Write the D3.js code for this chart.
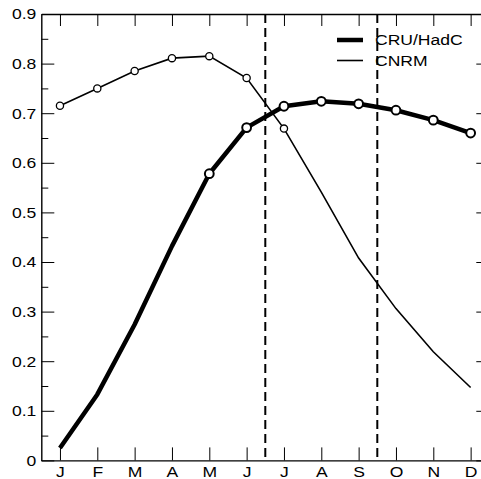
<!DOCTYPE html>
<html><head><meta charset="utf-8">
<script src="https://cdn.jsdelivr.net/npm/d3@7"></script>
<style>body{margin:0;background:#fff}svg{display:block}text{font-family:"Liberation Sans",Arial,sans-serif;font-size:15px;fill:#000}</style>
</head><body>
<svg id="c" width="481" height="479"></svg>
<script>
const months = ["J","F","M","A","M","J","J","A","S","O","N","D"];
const cruHadC = [0.025, 0.133, 0.274, 0.432, 0.578, 0.671, 0.714, 0.724, 0.719, 0.706, 0.686, 0.660];
const cnrm = [0.715, 0.750, 0.785, 0.811, 0.815, 0.771, 0.669, 0.541, 0.408, 0.306, 0.219, 0.147];
const cruMarkerIdx = [4,5,6,7,8,9,10,11];
const cnrmMarkerIdx = [0,1,2,3,4,5,6];
const dashedX = [5.5, 8.5];
const yTicks = [0,0.1,0.2,0.3,0.4,0.5,0.6,0.7,0.8,0.9];
const yMinor = [0.05,0.15,0.25,0.35,0.45,0.55,0.65,0.75,0.85];
const seriesNames = ["CRU/HadC","CNRM"];

const svg = d3.select("#c");
const x = d3.scaleLinear().domain([-0.5, 11.5]).range([41.3, 489.3]);
const y = d3.scaleLinear().domain([0, 0.9]).range([460.4, 14]);
const SX = 1.17;
const idx = d3.range(12);

// left axis
const gl = svg.append("g").attr("transform",`translate(${x(-0.5)},0)`)
  .call(d3.axisLeft(y).tickValues(yTicks).tickSize(-13).tickSizeOuter(0).tickPadding(5)
    .tickFormat(d => d===0 ? "0" : d3.format(".1f")(d)));
svg.append("g").attr("transform",`translate(${x(-0.5)},0)`)
  .call(d3.axisLeft(y).tickValues(yMinor).tickSize(-7).tickSizeOuter(0).tickFormat(""))
  .select(".domain").remove();
// right axis
svg.append("g").attr("transform",`translate(${x(11.5)},0)`)
  .call(d3.axisRight(y).tickValues(yTicks).tickSize(-13).tickSizeOuter(0).tickFormat(""));
svg.append("g").attr("transform",`translate(${x(11.5)},0)`)
  .call(d3.axisRight(y).tickValues(yMinor).tickSize(-7).tickSizeOuter(0).tickFormat(""))
  .select(".domain").remove();
// bottom axis
const gb = svg.append("g").attr("transform",`translate(0,${y(0)})`)
  .call(d3.axisBottom(x).tickValues(idx).tickSize(-13).tickSizeOuter(0).tickPadding(6)
    .tickFormat(i => months[i]));
// top axis
svg.append("g").attr("transform",`translate(0,${y(0.9)})`)
  .call(d3.axisTop(x).tickValues(idx).tickSize(-12).tickSizeOuter(0).tickFormat(""));

svg.selectAll(".domain").attr("stroke","#000").attr("stroke-width",1.4);
svg.selectAll(".tick line").attr("stroke","#000").attr("stroke-width",1);
svg.selectAll(".tick text").attr("font-family",null).attr("font-size",null)
  .attr("transform",`scale(${SX},1)`);
gl.selectAll(".tick text").attr("x", -5/SX);

// dashed lines
svg.selectAll("line.dash").data(dashedX).join("line").attr("class","dash")
  .attr("x1",d=>x(d)).attr("x2",d=>x(d)).attr("y1",y(0.9)).attr("y2",y(0))
  .attr("stroke","#000").attr("stroke-width",2).attr("stroke-dasharray","9,5");

const line = d3.line().x((d,i)=>x(i)).y(d=>y(d));
svg.append("path").datum(cnrm).attr("d",line).attr("fill","none").attr("stroke","#000").attr("stroke-width",1.6);
svg.append("path").datum(cruHadC).attr("d",line).attr("fill","none").attr("stroke","#000").attr("stroke-width",4.5).attr("stroke-linejoin","round");

svg.selectAll("circle.cn").data(cnrmMarkerIdx).join("circle").attr("class","cn")
  .attr("cx",i=>x(i)).attr("cy",i=>y(cnrm[i])).attr("r",3.6)
  .attr("fill","#fff").attr("stroke","#000").attr("stroke-width",1.3);
svg.selectAll("circle.cr").data(cruMarkerIdx).join("circle").attr("class","cr")
  .attr("cx",i=>x(i)).attr("cy",i=>y(cruHadC[i])).attr("r",4.4)
  .attr("fill","#fff").attr("stroke","#000").attr("stroke-width",2);

// legend
const leg = svg.append("g");
const lw = [4.5, 1.6], ly = [40, 60.5];
seriesNames.forEach((n,k)=>{
  leg.append("line").attr("x1",337).attr("x2",363).attr("y1",ly[k]).attr("y2",ly[k])
    .attr("stroke","#000").attr("stroke-width",lw[k]);
  leg.append("g").attr("transform",`translate(375,${ly[k]+5.4})`)
    .append("text").attr("transform",`scale(${SX},1)`).text(n);
});
</script>
</body></html>
